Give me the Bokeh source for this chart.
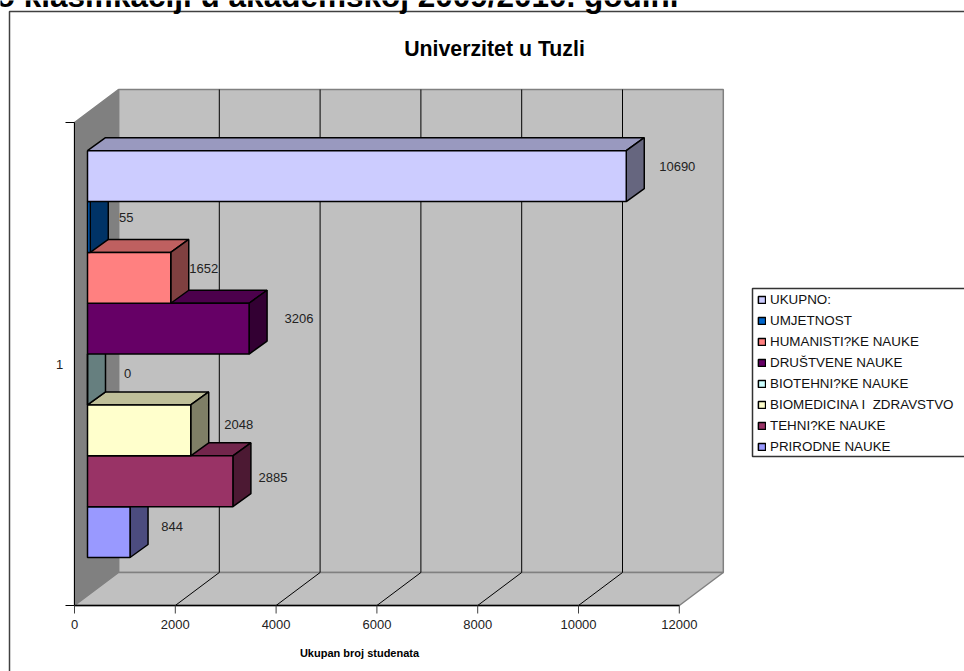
from bokeh.plotting import figure
from bokeh.models import Range1d, Legend, LegendItem, ColumnDataSource
from bokeh.core.properties import value
from bokeh.embed import file_html
from bokeh.resources import INLINE

# ---- data (bottom to top as drawn) ----
categories = ["PRIRODNE NAUKE", "TEHNI?KE NAUKE", "BIOMEDICINA I  ZDRAVSTVO", "BIOTEHNI?KE NAUKE",
              "DRUŠTVENE NAUKE", "HUMANISTI?KE NAUKE", "UMJETNOST", "UKUPNO:"]
students = [844, 2885, 2048, 0, 3206, 1652, 55, 10690]
front_rgb = [(153, 153, 255), (153, 51, 102), (255, 255, 204), (204, 255, 255),
             (102, 0, 102), (255, 128, 128), (0, 102, 204), (204, 204, 255)]
value_ticks = [0, 2000, 4000, 6000, 8000, 10000, 12000]
category_tick_label = "1"
page_title = "po klasifikaciji u akademskoj 2009/2010. godini"
chart_title = "Univerzitet u Tuzli"
x_title = "Ukupan broj studenata"

# ---- styling / layout ----
W, H = 964, 671
PX_PER_VALUE = 0.0504      # horizontal pixels per student
PX_PER_BAR = 50.85         # vertical pixels per bar slot
ORIGIN_X, BARS_BOTTOM = 74, 557
FONT = value("Liberation Sans")
label_dx = [24, 22, 30, 22, 32, 15, 18, 33]
label_dy = [6, 4, 6, 6, 10, 9, 9, 10]

def sx(px):  # pixel distance to value units
    return px / PX_PER_VALUE
def sy(px):
    return px / PX_PER_BAR
def from_top(py):
    return (BARS_BOTTOM - py) / PX_PER_BAR

p = figure(width=W, height=H, output_backend="svg", toolbar_location=None,
           x_range=Range1d(sx(-ORIGIN_X), sx(W - ORIGIN_X)),
           y_range=Range1d(from_top(H), from_top(0)),
           x_axis_type=None, y_axis_type=None, min_border=0, outline_line_color=None,
           background_fill_color="white", border_fill_color="white")
p.grid.visible = False

AX_BOTTOM, AX_TOP = from_top(605), from_top(122)
DW_X, DW_Y = sx(44), sy(33)
XMAX = value_ticks[-1]

# chart outer border
p.line([sx(9 - 74)] * 2 + [sx(W + 20 - 74)], [from_top(H + 20), from_top(11), from_top(11)],
       line_color="#404040", line_width=1.5)

# walls
p.patch([DW_X, DW_X + XMAX, DW_X + XMAX, DW_X], [AX_BOTTOM + DW_Y, AX_BOTTOM + DW_Y, AX_TOP + DW_Y, AX_TOP + DW_Y],
        fill_color="#C0C0C0", line_color="#808080", line_width=1.5)
p.patch([0, DW_X, DW_X, 0], [AX_TOP, AX_TOP + DW_Y, AX_BOTTOM + DW_Y, AX_BOTTOM],
        fill_color="#808080", line_color="#808080", line_width=1.5)
p.patch([0, DW_X, DW_X + XMAX, XMAX], [AX_BOTTOM, AX_BOTTOM + DW_Y, AX_BOTTOM + DW_Y, AX_BOTTOM],
        fill_color="#C0C0C0", line_color="#808080", line_width=1.5)

# gridlines
inner = value_ticks[1:-1]
p.segment([t + DW_X for t in inner], [AX_BOTTOM + DW_Y] * len(inner),
          [t + DW_X for t in inner], [AX_TOP + DW_Y] * len(inner), line_color="black", line_width=1)
p.segment(inner, [AX_BOTTOM] * len(inner), [t + DW_X for t in inner], [AX_BOTTOM + DW_Y] * len(inner),
          line_color="black", line_width=1)

# axes
p.line([0, 0], [AX_BOTTOM, AX_TOP], line_color="black", line_width=1)
p.segment([sx(-9)] * 2, [AX_BOTTOM, AX_TOP], [0, 0], [AX_BOTTOM, AX_TOP], line_color="black", line_width=1)
p.line([0, XMAX], [AX_BOTTOM, AX_BOTTOM], line_color="black", line_width=1.5)
p.segment(value_ticks, [AX_BOTTOM] * 7, value_ticks, [AX_BOTTOM - sy(8)] * 7, line_color="#404040", line_width=1)
p.text(value_ticks, [from_top(624)] * 7, text=[str(t) for t in value_ticks], text_font=FONT, text_font_size="13px",
       text_color="#222222", text_align="center", text_baseline="middle")
p.text([sx(-15)], [(AX_BOTTOM + AX_TOP) / 2], text=[category_tick_label], text_font=FONT, text_font_size="13px",
       text_color="#222222", text_align="center", text_baseline="middle")

# bars
BASE_X = sx(13)
D_X, D_Y = sx(18), sy(13)
def shade(rgb, k):
    return "#%02x%02x%02x" % tuple(int(c * k) for c in rgb)

legend_items = []
for i, (name, v, rgb) in enumerate(zip(categories, students, front_rgb)):
    x0, x1, y0, y1 = BASE_X, BASE_X + v, float(i), float(i + 1)
    p.patch([x0, x0 + D_X, x1 + D_X, x1], [y1, y1 + D_Y, y1 + D_Y, y1],
            fill_color=shade(rgb, 0.75), line_color="black", line_width=1.5)
    p.patch([x1, x1 + D_X, x1 + D_X, x1], [y0, y0 + D_Y, y1 + D_Y, y1],
            fill_color=shade(rgb, 0.5), line_color="black", line_width=1.5)
    r = p.patch([x0, x1, x1, x0], [y0, y0, y1, y1],
                fill_color=shade(rgb, 1), line_color="black", line_width=1.5)
    legend_items.insert(0, LegendItem(label=name, renderers=[r]))

# data labels
src = ColumnDataSource(dict(
    x=[BASE_X + v + D_X for v in students],
    y=[i + 0.5 for i in range(len(students))],
    text=[str(v) for v in students],
    dx=label_dx,
    dy=[-d for d in label_dy],
))
p.text("x", "y", text="text", x_offset="dx", y_offset="dy", source=src, text_font=FONT, text_font_size="13px",
       text_color="#222222", text_align="center", text_baseline="middle")

# titles
p.text([sx(494 - 74)], [from_top(48)], text=[chart_title], text_font=FONT, text_font_size="21.3px",
       text_font_style="bold", text_color="black", text_align="center", text_baseline="middle")
p.text([sx(359 - 74)], [from_top(652)], text=[x_title], text_font=FONT, text_font_size="11px",
       text_font_style="bold", text_color="black", text_align="center", text_baseline="middle")
p.text([sx(-24 - 74)], [from_top(-5)], text=[page_title], text_font=FONT, text_font_size="31.5px",
       text_font_style="bold", text_color="black", text_align="left", text_baseline="alphabetic")

# legend box (runs off the right of the page)
p.line([sx(W + 20 - 74), sx(752 - 74), sx(752 - 74), sx(W + 20 - 74)],
       [from_top(288), from_top(288), from_top(456), from_top(456)], line_color="#333333", line_width=1.5)
legend = Legend(items=legend_items, location=(757, H - 457), orientation="vertical", padding=0, margin=0, spacing=0,
                border_line_color=None, background_fill_alpha=0, glyph_width=9, glyph_height=9,
                label_standoff=4, label_height=21, label_text_font="Liberation Sans", label_text_font_size="13.4px",
                label_text_color="#111111")
p.add_layout(legend, "center")

open("out.html", "w").write(file_html(p, INLINE))
